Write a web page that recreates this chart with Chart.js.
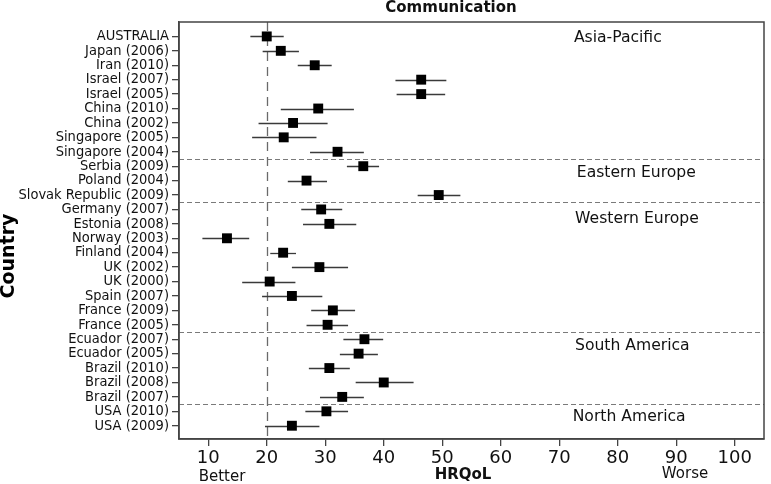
<!DOCTYPE html>
<html><head><meta charset="utf-8">
<script src="https://cdn.jsdelivr.net/npm/chart.js@4/dist/chart.umd.min.js"></script>
<style>html,body{margin:0;padding:0;background:#fff}#wrap{width:771px;height:484px}</style>
</head><body><div id="wrap"><canvas id="c" width="771" height="484"></canvas></div>
<script>
const countries = ["AUSTRALIA","Japan (2006)","Iran (2010)","Israel (2007)","Israel (2005)","China (2010)","China (2002)","Singapore (2005)","Singapore (2004)","Serbia (2009)","Poland (2004)","Slovak Republic (2009)","Germany (2007)","Estonia (2008)","Norway (2003)","Finland (2004)","UK (2002)","UK (2000)","Spain (2007)","France (2009)","France (2005)","Ecuador (2007)","Ecuador (2005)","Brazil (2010)","Brazil (2008)","Brazil (2007)","USA (2010)","USA (2009)"];
const means = [20.0,22.4,28.2,46.4,46.4,28.8,24.5,22.9,32.1,36.5,26.8,49.4,29.3,30.7,13.2,22.8,29.0,20.5,24.3,31.3,30.4,36.7,35.7,30.7,40.0,32.9,30.2,24.3];
const lower = [17.2,19.3,25.3,42.0,42.2,22.4,18.6,17.5,27.4,33.7,23.6,45.8,25.9,26.2,9.0,20.6,24.3,15.8,19.2,27.6,26.8,33.1,32.5,27.2,35.2,29.1,26.6,19.7];
const upper = [22.9,25.5,31.1,50.7,50.5,34.9,30.4,28.5,36.6,39.2,30.3,53.1,32.9,35.3,17.0,25.0,33.9,24.9,29.5,35.1,33.9,39.9,39.0,34.2,45.1,36.6,33.9,29.0];
const xTicks = [10,20,30,40,50,60,70,80,90,100];
const regions = ["Asia-Pacific","Eastern Europe","Western Europe","South America","North America"];
const regionBreaks = [9.5,12.5,21.5,26.5];
const referenceValue = 20;

const FONT = "'DejaVu Sans', Verdana, sans-serif";
const CFONT = "'DejaVu Sans Condensed', 'DejaVu Sans', sans-serif";
const pts = means.map((m,i)=>({x:m,y:i+1}));

const overlay = {
  id:'overlay',
  beforeDatasetsDraw(chart){
    const {ctx, chartArea:a, scales:{x,y}} = chart;
    ctx.save();
    ctx.strokeStyle='#7a7a7a'; ctx.lineWidth=1.2; ctx.setLineDash([5,3]);
    regionBreaks.forEach(b=>{const py=Math.round(y.getPixelForValue(b))+0.5;ctx.beginPath();ctx.moveTo(a.left,py);ctx.lineTo(a.right,py);ctx.stroke();});
    ctx.setLineDash([9,6]); ctx.strokeStyle='#6a6a6a'; ctx.lineWidth=1.3;
    const rx=Math.round(x.getPixelForValue(referenceValue))+0.5;
    ctx.beginPath();ctx.moveTo(rx,a.top);ctx.lineTo(rx,a.bottom);ctx.stroke();
    ctx.setLineDash([]);
    ctx.strokeStyle='#3a3a3a'; ctx.lineWidth=1.3;
    means.forEach((m,i)=>{const py=Math.round(y.getPixelForValue(i+1))+0.5;ctx.beginPath();ctx.moveTo(x.getPixelForValue(lower[i]),py);ctx.lineTo(x.getPixelForValue(upper[i]),py);ctx.stroke();});
    ctx.fillStyle='#111'; ctx.font='15.6px '+FONT; ctx.textBaseline='middle'; ctx.textAlign='left';
    const ry=[1.1,10.45,13.65,22.5,27.4], rxv=[72.5,73,72.7,72.7,72.3];
    regions.forEach((r,i)=>ctx.fillText(r,x.getPixelForValue(rxv[i]),y.getPixelForValue(ry[i])));
    ctx.restore();
  },
  afterDraw(chart){
    const {ctx, chartArea:a} = chart;
    ctx.save();
    ctx.strokeStyle='#444'; ctx.lineWidth=1.5;
    ctx.strokeRect(a.left,a.top,a.right-a.left,a.bottom-a.top);
    ctx.fillStyle='#111'; ctx.textBaseline='middle';
    ctx.font='bold 15px '+FONT; ctx.textAlign='center';
    ctx.fillText('Communication',451,8);
    ctx.fillText('HRQoL',463,475);
    ctx.font='15px '+FONT;
    ctx.fillText('Better',222,477);
    ctx.fillText('Worse',685,474);
    ctx.save();
    ctx.translate(9,256); ctx.rotate(-Math.PI/2);
    ctx.fillStyle='#000'; ctx.font='bold 19px '+FONT;
    ctx.fillText('Country',0,0);
    ctx.restore();
    ctx.restore();
  }
};

new Chart(document.getElementById('c'),{
  type:'scatter',
  data:{datasets:[{data:pts,pointStyle:'rect',pointRadius:7,pointHoverRadius:7,backgroundColor:'#000',borderColor:'#000',borderWidth:0}]},
  options:{
    responsive:false,animation:false,
    layout:{padding:{top:22,right:1,left:0,bottom:0}},
    plugins:{legend:{display:false},tooltip:{enabled:false}},
    scales:{
      x:{type:'linear',min:5,max:105,
        afterBuildTicks(s){s.ticks=xTicks.map(v=>({value:v}));},
        afterFit(s){s.height=45;},
        grid:{drawOnChartArea:false,tickLength:7,color:'#444',lineWidth:1.3},
        border:{color:'#444',width:1.5},
        ticks:{color:'#111',font:{family:FONT,size:18},padding:2,maxRotation:0}},
      y:{type:'linear',min:0,max:28.92,reverse:true,
        afterBuildTicks(s){s.ticks=countries.map((c,i)=>({value:i+1}));},
        afterFit(s){s.width=179;},
        grid:{drawOnChartArea:false,tickLength:7,color:'#444',lineWidth:1.3},
        border:{color:'#444',width:1.5},
        ticks:{color:'#111',font:{family:CFONT,size:14.5},padding:3,autoSkip:false,callback:(v)=>countries[v-1]||''}}
    }
  },
  plugins:[overlay]
});
</script></body></html>
